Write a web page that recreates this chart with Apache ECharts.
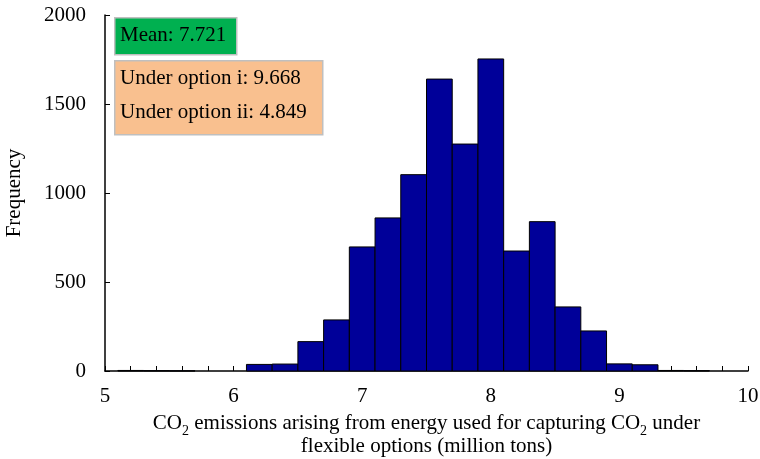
<!DOCTYPE html>
<html>
<head>
<meta charset="utf-8">
<script src="https://cdn.jsdelivr.net/npm/echarts@6/dist/echarts.min.js"></script>
<style>html,body{margin:0;padding:0;background:#fff}#c{width:760px;height:459px}</style>
</head>
<body>
<div id="c"></div>
<script>
// Histogram bin centers (bin width 0.2) and frequencies
var binCenters = [5.2, 5.4, 5.6, 6.2, 6.4, 6.6, 6.8, 7.0, 7.2, 7.4, 7.6, 7.8, 8.0, 8.2, 8.4, 8.6, 8.8, 9.0, 9.2, 9.4, 9.6];
var counts     = [3,   2,   1,   37,  39,  165, 287, 697, 860, 1103, 1640, 1275, 1753, 674, 839, 360, 225, 40, 35, 3, 2];
var binWidth = 0.2;
var xTicks = [5, 6, 7, 8, 9, 10];
var yTicks = [0, 500, 1000, 1500, 2000];
var meanText = 'Mean: 7.721';
var optionLines = ['Under option i: 9.668', 'Under option ii: 4.849'];
var xTitle = 'CO{sub|2} emissions arising from energy used for capturing CO{sub|2} under\nflexible options (million tons)';

var font = '"Liberation Serif", "Times New Roman", "DejaVu Serif", serif';
var fs = 21;
var chart = echarts.init(document.getElementById('c'), null, {renderer: 'canvas'});
var data = binCenters.map(function (c, i) { return [c, counts[i]]; });

chart.setOption({
  animation: false,
  grid: {left: 105, right: 12, top: 15, bottom: 88, outerBoundsMode: 'none', containLabel: false},
  xAxis: {
    type: 'value', min: xTicks[0], max: xTicks[xTicks.length - 1], interval: 0.2,
    name: xTitle,
    nameLocation: 'middle', nameGap: 39,
    nameTextStyle: {fontFamily: font, fontSize: fs, color: '#000', lineHeight: 23, verticalAlign: 'top',
      rich: {sub: {fontFamily: font, fontSize: 14, color: '#000', lineHeight: 23, verticalAlign: 'bottom', padding: [0, 0, -3, 0]}}},
    axisLine: {show: true, lineStyle: {color: '#000', width: 1.5}},
    axisTick: {show: true, inside: true, length: 5, lineStyle: {color: '#000', width: 1}},
    axisLabel: {
      fontFamily: font, fontSize: fs, color: '#000', margin: 15,
      formatter: function (v) {
        var r = Math.round(v);
        return (Math.abs(v - r) < 1e-6 && xTicks.indexOf(r) >= 0) ? String(r) : '';
      }
    },
    splitLine: {show: false}
  },
  yAxis: {
    type: 'value', min: yTicks[0], max: yTicks[yTicks.length - 1], interval: 500,
    name: 'Frequency', nameLocation: 'middle', nameGap: 80, nameRotate: 90,
    nameTextStyle: {fontFamily: font, fontSize: fs, color: '#000'},
    axisLine: {show: true, lineStyle: {color: '#000', width: 1.5}},
    axisTick: {show: true, inside: true, length: 5, lineStyle: {color: '#000', width: 1}},
    axisLabel: {fontFamily: font, fontSize: fs, color: '#000', margin: 19,
      formatter: function (v) { return String(v); }},
    splitLine: {show: false}
  },
  series: [{
    type: 'custom',
    data: data,
    renderItem: function (params, api) {
      var c = api.value(0), v = api.value(1);
      var p1 = api.coord([c - binWidth / 2, v]);
      var p2 = api.coord([c + binWidth / 2, 0]);
      return {
        type: 'rect',
        shape: {x: p1[0], y: p1[1], width: p2[0] - p1[0], height: p2[1] - p1[1]},
        style: {fill: '#000099', stroke: '#000', lineWidth: 1}
      };
    }
  }],
  graphic: [
    {type: 'rect', left: 114, top: 17, shape: {width: 122, height: 37},
     style: {fill: '#00B050', stroke: '#BFBFBF', lineWidth: 1.5}, z: 10},
    {type: 'text', left: 120, top: 25, z: 11,
     style: {text: meanText, font: fs + 'px ' + font, fill: '#000'}},
    {type: 'rect', left: 114, top: 60, shape: {width: 208, height: 74},
     style: {fill: '#F9C08F', stroke: '#BFBFBF', lineWidth: 1.5}, z: 10},
    {type: 'text', left: 120, top: 68, z: 11,
     style: {text: optionLines[0], font: fs + 'px ' + font, fill: '#000'}},
    {type: 'text', left: 120, top: 102, z: 11,
     style: {text: optionLines[1], font: fs + 'px ' + font, fill: '#000'}}
  ]
});
</script>
</body>
</html>
